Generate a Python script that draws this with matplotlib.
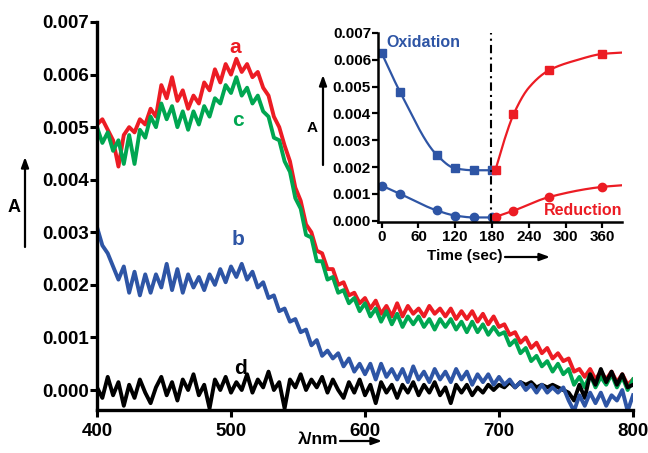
import numpy as np
import matplotlib
matplotlib.use('Agg')
import matplotlib.pyplot as plt

plt.rcParams['font.family'] = ['Liberation Sans', 'DejaVu Sans']
plt.rcParams['font.weight'] = 'bold'

# spectra, wavelength in nm, absorbance in units of 0.001
wl = np.arange(400, 801, 4)

spec_a = [5.05, 5.15, 4.95, 4.75, 4.25, 4.85, 5.0, 4.9, 5.15, 5.05,
          5.35, 5.2, 5.8, 5.55, 5.95, 5.5, 5.7, 5.35, 5.6, 5.45,
          5.85, 5.7, 6.1, 5.85, 6.2, 6.0, 6.3, 6.05, 6.2, 5.95,
          6.05, 5.75, 5.6, 5.2, 5.0, 4.65, 4.35, 3.85, 3.6, 3.15,
          3.0, 2.65, 2.6, 2.3, 2.3, 2.0, 2.05, 1.8, 1.85, 1.65,
          1.75, 1.55, 1.7, 1.45, 1.6, 1.4, 1.65, 1.4, 1.6, 1.45,
          1.55, 1.4, 1.6, 1.45, 1.55, 1.4, 1.55, 1.35, 1.5, 1.35,
          1.5, 1.3, 1.45, 1.25, 1.4, 1.2, 1.25, 1.05, 1.1, 0.9,
          1.0, 0.8, 0.9, 0.7, 0.8, 0.6, 0.7, 0.55, 0.6, 0.35,
          0.4, 0.25, 0.4, 0.2, 0.35, 0.2, 0.35, 0.15, 0.3, 0.1,
          0.2]

spec_c = [5.0, 4.7, 4.9, 4.55, 4.75, 4.3, 4.85, 4.3, 4.95, 4.8,
          5.2, 5.0, 5.45, 5.15, 5.4, 5.0, 5.3, 4.95, 5.3, 5.05,
          5.4, 5.2, 5.55, 5.45, 5.8, 5.65, 5.95, 5.6, 5.75, 5.45,
          5.6, 5.3, 5.2, 4.8, 4.75, 4.35, 4.15, 3.65, 3.45, 2.95,
          2.9, 2.45, 2.45, 2.1, 2.15, 1.85, 1.9, 1.65, 1.75, 1.5,
          1.65, 1.4, 1.55, 1.3, 1.5, 1.25, 1.45, 1.2, 1.4, 1.25,
          1.4, 1.2, 1.35, 1.15, 1.35, 1.2, 1.35, 1.15, 1.3, 1.1,
          1.3, 1.1, 1.25, 1.05, 1.2, 1.05, 1.1, 0.85, 0.95, 0.7,
          0.8, 0.55, 0.65, 0.45, 0.55, 0.35, 0.5, 0.3, 0.4, 0.1,
          0.25, 0.05, 0.3, 0.05, 0.25, 0.1, 0.3, 0.05, 0.25, 0.0,
          0.2]

spec_b = [3.1, 2.75, 2.6, 2.35, 2.1, 2.35, 1.85, 2.25, 1.8, 2.2,
          1.85, 2.2, 1.95, 2.4, 1.9, 2.3, 1.85, 2.2, 1.95, 2.15,
          1.9, 2.2, 2.0, 2.3, 2.05, 2.35, 2.15, 2.4, 2.1, 2.25,
          1.95, 2.05, 1.75, 1.8, 1.5, 1.55, 1.3, 1.35, 1.1, 1.15,
          0.85, 0.95, 0.65, 0.75, 0.6, 0.7, 0.45, 0.6, 0.35, 0.5,
          0.3, 0.5, 0.2, 0.5, 0.25, 0.4, 0.2, 0.4, 0.15, 0.45,
          0.2, 0.35, 0.15, 0.4, 0.2, 0.35, 0.15, 0.4, 0.2, 0.35,
          0.1, 0.3, 0.15, 0.3, 0.1, 0.25, 0.1, 0.2, 0.05, 0.15,
          0.0, 0.1, -0.05, 0.1, -0.05, 0.05, -0.05, 0.05, -0.2, -0.4,
          -0.1, -0.3, -0.05, -0.25, -0.05, -0.3, -0.1, -0.2, 0.0, -0.4,
          -0.1]

spec_d = [0.05, -0.15, 0.25, -0.1, 0.15, -0.3, 0.1, -0.15, 0.2, -0.05,
          -0.25, 0.05, 0.25, -0.1, 0.15, -0.2, 0.2, 0.0, 0.3, -0.1,
          0.1, -0.35, 0.2, 0.0, 0.25, -0.05, 0.15, 0.0, 0.3, -0.05,
          0.2, 0.05, 0.35, 0.0, 0.15, -0.35, 0.2, 0.05, 0.3, 0.0,
          0.2, 0.05, 0.25, -0.05, 0.2, 0.0, -0.15, 0.15, -0.05, 0.2,
          -0.1, 0.1, -0.25, 0.15, -0.05, 0.1, -0.15, 0.1, -0.05, 0.15,
          -0.1, 0.1, -0.05, 0.15, -0.1, 0.05, -0.25, 0.1, -0.05, 0.1,
          -0.1, 0.05, -0.05, 0.1, 0.0, 0.1, 0.05, 0.15, 0.05, 0.15,
          0.1, 0.15, 0.05, 0.1, 0.05, 0.1, 0.05, 0.0, -0.05, -0.2,
          0.1, -0.15, 0.3, 0.1, 0.4, 0.15, 0.35, 0.1, 0.3, 0.05,
          0.1]

# inset kinetics, time in s, absorbance in units of 0.001
ox_t = [0, 30, 90, 120, 150, 180]
ox_sq = [6.25, 4.8, 2.45, 1.95, 1.88, 1.88]
ox_ci = [1.31, 1.0, 0.38, 0.19, 0.12, 0.12]

red_t = [187, 215, 273, 360]
red_sq = [1.9, 3.96, 5.61, 6.22]
red_ci = [0.15, 0.37, 0.88, 1.26]

# fitted reduction curves
red_fit_t = [187, 200, 215, 240, 273, 320, 360, 392]
red_fit_sq = [2.0, 3.0, 3.96, 4.96, 5.61, 6.0, 6.22, 6.27]
red_fit_ci_t = [187, 215, 273, 360, 392]
red_fit_ci = [0.15, 0.37, 0.88, 1.26, 1.32]

c_red = '#ec1c24'
c_green = '#00a651'
c_blue = '#2e55a5'


def smooth(x, y, n=200):
    # monotone cubic through the points, only for drawing
    x = np.asarray(x, float)
    y = np.asarray(y, float)
    h = np.diff(x)
    d = np.diff(y) / h
    m = np.zeros_like(y)
    m[0], m[-1] = d[0], d[-1]
    for k in range(1, len(x) - 1):
        if d[k - 1] * d[k] > 0:
            w1 = 2 * h[k] + h[k - 1]
            w2 = h[k] + 2 * h[k - 1]
            m[k] = (w1 + w2) / (w1 / d[k - 1] + w2 / d[k])
    xs = np.linspace(x[0], x[-1], n)
    i = np.clip(np.searchsorted(x, xs) - 1, 0, len(x) - 2)
    t = (xs - x[i]) / h[i]
    ys = ((2 * t**3 - 3 * t**2 + 1) * y[i] + (t**3 - 2 * t**2 + t) * h[i] * m[i]
          + (-2 * t**3 + 3 * t**2) * y[i + 1] + (t**3 - t**2) * h[i] * m[i + 1])
    return xs, ys


W, H = 648, 453
fig = plt.figure(figsize=(W / 100, H / 100), dpi=100)


def fx(px):
    return px / W


def fy(py):
    return 1 - py / H


ax = fig.add_axes([fx(97), fy(410), fx(633) - fx(97), fy(22) - fy(410)])
s = 1e-3
ax.plot(wl, np.array(spec_a) * s, color=c_red, lw=2.8)
ax.plot(wl, np.array(spec_c) * s, color=c_green, lw=2.8)
ax.plot(wl, np.array(spec_d) * s, color='black', lw=2.8)
ax.plot(wl, np.array(spec_b) * s, color=c_blue, lw=2.8)

ax.set_xlim(400, 800)
ax.set_ylim(-0.00038, 0.007)
ax.set_xticks([400, 500, 600, 700, 800])
ax.set_yticks(np.arange(0, 0.0071, 0.001))
ax.set_yticklabels(['%.3f' % v for v in np.arange(0, 0.0071, 0.001)])
for sp in ['top', 'right']:
    ax.spines[sp].set_visible(False)
for sp in ['left', 'bottom']:
    ax.spines[sp].set_linewidth(2.4)
ax.tick_params(axis='both', width=2.2, length=5, labelsize=13.5)
ax.tick_params(axis='y', pad=1)
ax.tick_params(axis='x', pad=4)

ax.text(503, 0.00652, 'a', color=c_red, fontsize=15, ha='center', va='center')
ax.text(505, 0.00513, 'c', color=c_green, fontsize=15, ha='center', va='center')
ax.text(505, 0.00287, 'b', color=c_blue, fontsize=15, ha='center', va='center')
ax.text(507, 0.0004, 'd', color='black', fontsize=15, ha='center', va='center')

# inset
ins = fig.add_axes([fx(378), fy(222), fx(622) - fx(378), fy(33) - fy(222)])
ins.patch.set_alpha(0)
ins.plot(*smooth(ox_t, np.array(ox_sq) * s), color=c_blue, lw=1.6)
ins.plot(*smooth(ox_t, np.array(ox_ci) * s), color=c_blue, lw=1.6)
ins.plot(ox_t, np.array(ox_sq) * s, 's', color=c_blue, ms=6)
ins.plot(ox_t, np.array(ox_ci) * s, 'o', color=c_blue, ms=6)
ins.plot(*smooth(red_fit_t, np.array(red_fit_sq) * s), color=c_red, lw=1.6)
ins.plot(*smooth(red_fit_ci_t, np.array(red_fit_ci) * s), color=c_red, lw=1.6)
ins.plot(red_t, np.array(red_sq) * s, 's', color=c_red, ms=6)
ins.plot(red_t, np.array(red_ci) * s, 'o', color=c_red, ms=6)
ins.axvline(179, color='black', lw=1.5, dashes=(4, 2, 1, 2))

ins.set_xlim(-6, 392)
ins.set_ylim(-0.00005, 0.007)
ins.set_xticks([0, 60, 120, 180, 240, 300, 360])
ins.set_yticks(np.arange(0, 0.0071, 0.001))
ins.set_yticklabels(['%.3f' % v for v in np.arange(0, 0.0071, 0.001)])
for sp in ['top', 'right']:
    ins.spines[sp].set_visible(False)
for sp in ['left', 'bottom']:
    ins.spines[sp].set_linewidth(1.8)
ins.tick_params(axis='both', width=1.6, length=4, labelsize=11)
ins.tick_params(axis='y', pad=1)
ins.tick_params(axis='x', pad=2)

ins.text(0.035, 0.95, 'Oxidation', transform=ins.transAxes, color=c_blue,
         fontsize=11.5, ha='left', va='center')
ins.text(1.0, 0.06, 'Reduction', transform=ins.transAxes, color=c_red,
         fontsize=11.5, ha='right', va='center')

# axis labels with arrows
fig.text(fx(14), fy(208), 'A', fontsize=13, ha='center', va='center')
fig.text(fx(318), fy(440), 'λ/nm', fontsize=12.5, ha='center', va='center')
fig.text(fx(312), fy(128), 'A', fontsize=11, ha='center', va='center')
fig.text(fx(465), fy(256), 'Time (sec)', fontsize=11, ha='center', va='center')

arrow = dict(arrowstyle='-|>,head_length=0.6,head_width=0.22', color='black',
             lw=1.6, shrinkA=0, shrinkB=0)
fig.add_artist(plt.Annotation('', xy=(fx(25), fy(157)), xytext=(fx(25), fy(247)),
                              xycoords='figure fraction', arrowprops=arrow))
fig.add_artist(plt.Annotation('', xy=(fx(382), fy(441)), xytext=(fx(340), fy(441)),
                              xycoords='figure fraction', arrowprops=arrow))
fig.add_artist(plt.Annotation('', xy=(fx(323), fy(75)), xytext=(fx(323), fy(165)),
                              xycoords='figure fraction', arrowprops=arrow))
fig.add_artist(plt.Annotation('', xy=(fx(550), fy(257)), xytext=(fx(505), fy(257)),
                              xycoords='figure fraction', arrowprops=arrow))

fig.savefig('out.png', dpi=100)
